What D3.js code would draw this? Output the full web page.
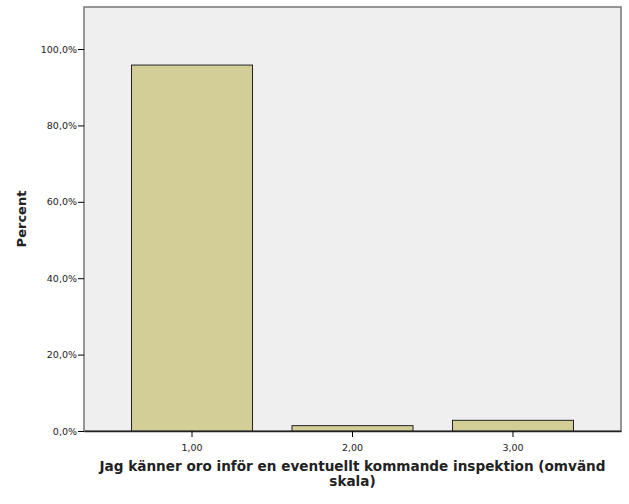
<!DOCTYPE html>
<html><head><meta charset="utf-8">
<script src="https://cdn.jsdelivr.net/npm/d3@7"></script>
<style>body{margin:0;background:#fff}svg{display:block}</style>
</head><body>
<script>
const categories = ["1,00", "2,00", "3,00"];
const percents = [95.8, 1.4, 2.8];
const yTicks = [0, 20, 40, 60, 80, 100];
const xTitle = ["Jag känner oro inför en eventuellt kommande inspektion (omvänd", "skala)"];
const yTitle = "Percent";

const W = 629, H = 504;
const m = {left: 84, right: 8, top: 7, bottom: 73};
const svg = d3.select("body").append("svg").attr("width", W).attr("height", H);

const x = d3.scaleBand().domain(categories).range([m.left, W - m.right]).paddingInner(0.246).paddingOuter(0.296);
const y = d3.scaleLinear().domain([0, 111]).range([H - m.bottom, m.top]);

svg.append("rect").attr("x", m.left).attr("y", m.top)
  .attr("width", W - m.right - m.left).attr("height", H - m.bottom - m.top)
  .attr("fill", "#efefef").attr("stroke", "#777").attr("stroke-width", 1.5);

svg.selectAll(".bar").data(percents).join("rect")
  .attr("x", (d, i) => x(categories[i])).attr("y", d => y(d))
  .attr("width", x.bandwidth()).attr("height", d => y(0) - y(d))
  .attr("fill", "#d3ce97").attr("stroke", "#222").attr("stroke-width", 1);

const yAxis = svg.append("g").attr("transform", `translate(${m.left},0)`)
  .call(d3.axisLeft(y).tickValues(yTicks).tickSize(6).tickSizeOuter(0).tickPadding(1)
    .tickFormat(d => d.toFixed(1).replace(".", ",") + "%"));
yAxis.select(".domain").remove();
yAxis.selectAll("text").attr("font-family", "DejaVu Sans").attr("font-size", 9.5).attr("fill", "#222");

const xAxis = svg.append("g").attr("transform", `translate(0,${H - m.bottom})`)
  .call(d3.axisBottom(x).tickSize(6).tickSizeOuter(0).tickPadding(7));
xAxis.select(".domain").attr("stroke", "#222").attr("stroke-width", 1.5);
xAxis.selectAll("text").attr("font-family", "DejaVu Sans").attr("font-size", 9.5).attr("fill", "#222");

svg.append("text").attr("transform", `translate(26,${(m.top + H - m.bottom) / 2}) rotate(-90)`)
  .attr("text-anchor", "middle").attr("font-family", "DejaVu Sans").attr("font-weight", "bold")
  .attr("font-size", 13).attr("fill", "#222").text(yTitle);

svg.append("g").selectAll("text").data(xTitle).join("text")
  .attr("x", (m.left + W - m.right) / 2).attr("y", (d, i) => 471 + i * 15)
  .attr("text-anchor", "middle").attr("font-family", "DejaVu Sans").attr("font-weight", "bold")
  .attr("font-size", 13.6).attr("fill", "#222").text(d => d);
</script>
</body></html>
